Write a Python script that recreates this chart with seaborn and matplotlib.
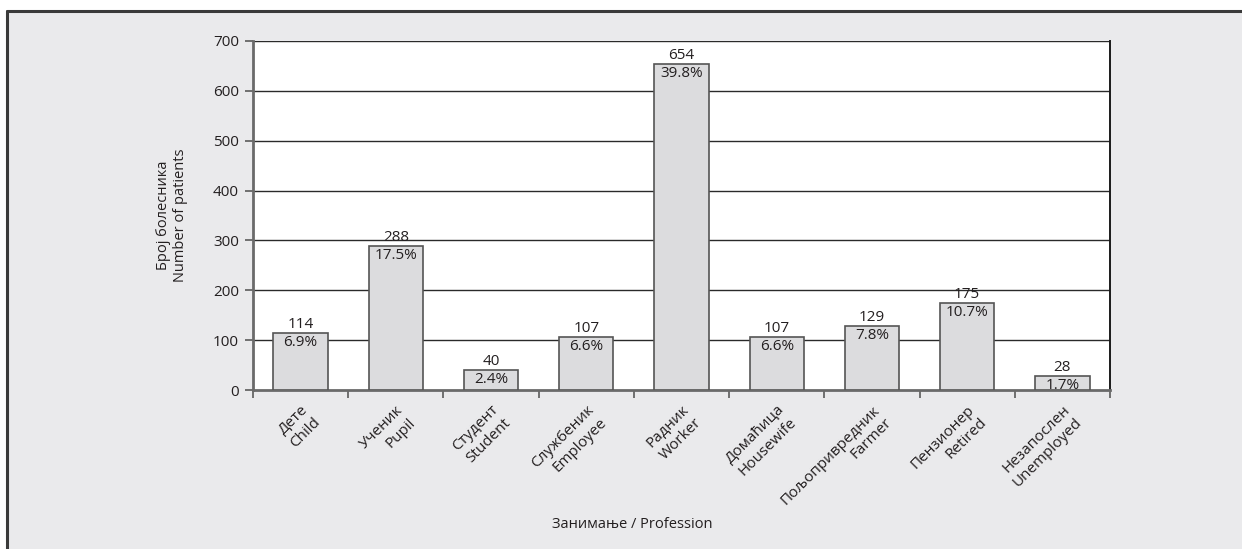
import numpy as np
import matplotlib
matplotlib.use("Agg")
import matplotlib.pyplot as plt
from matplotlib.patches import Rectangle
from matplotlib.lines import Line2D
import seaborn as sns

# Patients by profession
categories = ["Дете\nChild", "Ученик\nPupil", "Студент\nStudent", "Службеник\nEmployee",
              "Радник\nWorker", "Домаћица\nHousewife", "Пољопривредник\nFarmer",
              "Пензионер\nRetired", "Незапослен\nUnemployed"]
counts = [114, 288, 40, 107, 654, 107, 129, 175, 28]
percents = ["6.9%", "17.5%", "2.4%", "6.6%", "39.8%", "6.6%", "7.8%", "10.7%", "1.7%"]
y_ticks = [0, 100, 200, 300, 400, 500, 600, 700]

sns.set_theme(style="white")
plt.rcParams["font.family"] = ["Open Sans", "DejaVu Sans"]
text_color = "#231f20"
panel_color = "#eaeaec"
fs = 11

W, H = 1242, 549
fig = plt.figure(figsize=(W / 100, H / 100), dpi=100, facecolor="white")

# grey panel with a frame on its left and top edges
px0, py1 = 7 / W, 1 - 11 / H
fig.patches.append(Rectangle((px0, 0), 1 - px0, py1, transform=fig.transFigure,
                             facecolor=panel_color, edgecolor="none", zorder=-3))
fig.lines.append(Line2D([px0, px0], [0, py1], transform=fig.transFigure,
                        color="#3a3a3a", lw=2.2, zorder=-2))
fig.lines.append(Line2D([px0, 1], [py1, py1], transform=fig.transFigure,
                        color="#3a3a3a", lw=2.2, zorder=-2))

ax = fig.add_axes([253 / W, 1 - 390 / H, (1110 - 253) / W, (390 - 41) / H])
ax.set_facecolor("white")

sns.barplot(x=list(range(len(categories))), y=counts, color="#dcdcde",
            edgecolor="#555555", linewidth=1.2, width=0.57, saturation=1,
            ax=ax, zorder=3)

n = len(categories)
ax.set_xlim(-0.5, n - 0.5)
ax.set_ylim(0, 700)
ax.set_yticks(y_ticks)
ax.set_yticklabels([str(v) for v in y_ticks], fontsize=fs, color=text_color)

# horizontal grid
for v in y_ticks[1:]:
    ax.axhline(v, color="#2a2a2a", lw=1.0, zorder=1)

# boundary ticks between categories, labels at category centres
ax.set_xticks(np.arange(n + 1) - 0.5)
ax.set_xticklabels([""] * (n + 1))
ax.set_xticks(np.arange(n), minor=True)
ax.set_xticklabels(categories, minor=True, rotation=45, ha="right", va="top",
                   rotation_mode="anchor", fontsize=fs, color=text_color,
                   multialignment="right", linespacing=1.25)
ax.tick_params(axis="x", which="major", direction="out", length=6, width=1.2,
               color="#5a5a5a", bottom=True)
ax.tick_params(axis="x", which="minor", length=0, pad=9, bottom=True)
ax.tick_params(axis="y", direction="out", length=6, width=1.2, color="#5a5a5a",
               left=True, pad=4)

for side in ["left", "bottom"]:
    ax.spines[side].set_color("#6a6a6a")
    ax.spines[side].set_linewidth(2.0)
ax.spines["right"].set_color("#1a1a1a")
ax.spines["right"].set_linewidth(1.4)
ax.spines["top"].set_visible(False)

# value labels: count above each bar, share just inside the top
for bar, c, p in zip(ax.patches, counts, percents):
    cx = bar.get_x() + bar.get_width() / 2
    top = bar.get_height()
    ax.text(cx, top + 2, str(c), ha="center", va="bottom", fontsize=fs,
            color=text_color, zorder=5)
    ax.text(cx, top - 4, p, ha="center", va="top", fontsize=fs,
            color=text_color, zorder=5)

ax.set_xlabel("")
ax.set_ylabel("")
fig.text(172 / W, 1 - 215 / H, "Број болесника\nNumber of patients", rotation=90,
         ha="center", va="center", fontsize=10.5, color=text_color,
         multialignment="center")
fig.text(632 / W, 1 - 525 / H, "Занимање / Profession", ha="center", va="center",
         fontsize=10.5, color=text_color)

fig.savefig("out.png", dpi=100, facecolor="white")
